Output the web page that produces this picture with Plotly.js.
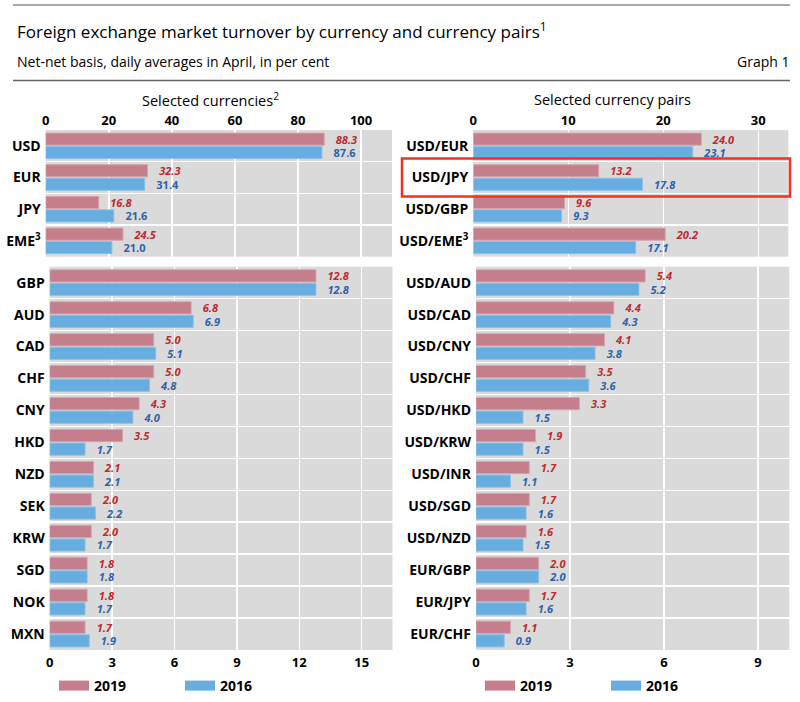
<!DOCTYPE html>
<html>
<head>
<meta charset="utf-8">
<script src="https://cdn.plot.ly/plotly-3.0.1.min.js"></script>
<style>html,body{margin:0;padding:0;background:#fff;}#chart{width:800px;height:702px;}</style>
</head>
<body>
<div id="chart"></div>
<script>
// ---- data ----
const currenciesMajor = ['USD', 'EUR', 'JPY', 'EME<sup>3</sup>'];
const currenciesMajor2019 = [88.3, 32.3, 16.8, 24.5];
const currenciesMajor2016 = [87.6, 31.4, 21.6, 21.0];

const currenciesOther = ['GBP', 'AUD', 'CAD', 'CHF', 'CNY', 'HKD', 'NZD', 'SEK', 'KRW', 'SGD', 'NOK', 'MXN'];
const currenciesOther2019 = [12.8, 6.8, 5.0, 5.0, 4.3, 3.5, 2.1, 2.0, 2.0, 1.8, 1.8, 1.7];
const currenciesOther2016 = [12.8, 6.9, 5.1, 4.8, 4.0, 1.7, 2.1, 2.2, 1.7, 1.8, 1.7, 1.9];

const pairsMajor = ['USD/EUR', 'USD/JPY', 'USD/GBP', 'USD/EME<sup>3</sup>'];
const pairsMajor2019 = [24.0, 13.2, 9.6, 20.2];
const pairsMajor2016 = [23.1, 17.8, 9.3, 17.1];

const pairsOther = ['USD/AUD', 'USD/CAD', 'USD/CNY', 'USD/CHF', 'USD/HKD', 'USD/KRW', 'USD/INR', 'USD/SGD', 'USD/NZD', 'EUR/GBP', 'EUR/JPY', 'EUR/CHF'];
const pairsOther2019 = [5.4, 4.4, 4.1, 3.5, 3.3, 1.9, 1.7, 1.7, 1.6, 2.0, 1.7, 1.1];
const pairsOther2016 = [5.2, 4.3, 3.8, 3.6, 1.5, 1.5, 1.1, 1.6, 1.5, 2.0, 1.6, 0.9];

const seriesNames = ['2019', '2016'];
const topLeftTicks = [0, 20, 40, 60, 80, 100];
const bottomLeftTicks = [0, 3, 6, 9, 12, 15];
const topRightTicks = [0, 10, 20, 30];
const bottomRightTicks = [0, 3, 6, 9];

// ---- styles ----
const FONT = 'Open Sans, Noto Sans, sans-serif';
const W = 800, H = 702;
const px = v => v / W;
const py = v => 1 - v / H;
const PINK = '#c47e8c', BLUE = '#67ade0';
const PINK_EDGE = '#d9a3ae', BLUE_EDGE = '#8cc2ea';
const RED_TXT = '#be2a2f', BLUE_TXT = '#2d62ad';
const NB = '\u00a0\u00a0\u00a0';

function barTrace(name, cats, vals, xa, ya, color, edge, txtColor, italic) {
  return {
    type: 'bar', orientation: 'h', name: name,
    y: cats, x: vals, xaxis: xa, yaxis: ya,
    marker: {color: color, line: {color: edge, width: 1}},
    text: vals.map(v => NB + v.toFixed(1)),
    textposition: 'outside', constraintext: 'none', cliponaxis: false,
    textfont: {family: FONT, size: 11, color: txtColor, weight: 'bold', style: italic ? 'italic' : 'normal'},
    hoverinfo: 'skip', showlegend: false
  };
}
// legend-only keys (wide rectangular swatches)
function legendKey(name, color, xa, ya, legendId) {
  return {
    type: 'scatter', mode: 'lines', name: name, x: [null], y: [null],
    xaxis: xa, yaxis: ya, line: {color: color, width: 11},
    legend: legendId, showlegend: true, hoverinfo: 'skip'
  };
}

const data = [
  barTrace(seriesNames[0], currenciesMajor, currenciesMajor2019, 'x', 'y', PINK, PINK_EDGE, RED_TXT, true),
  barTrace(seriesNames[1], currenciesMajor, currenciesMajor2016, 'x', 'y', BLUE, BLUE_EDGE, BLUE_TXT, false),
  barTrace(seriesNames[0], currenciesOther, currenciesOther2019, 'x2', 'y2', PINK, PINK_EDGE, RED_TXT, true),
  barTrace(seriesNames[1], currenciesOther, currenciesOther2016, 'x2', 'y2', BLUE, BLUE_EDGE, BLUE_TXT, true),
  barTrace(seriesNames[0], pairsMajor, pairsMajor2019, 'x3', 'y3', PINK, PINK_EDGE, RED_TXT, true),
  barTrace(seriesNames[1], pairsMajor, pairsMajor2016, 'x3', 'y3', BLUE, BLUE_EDGE, BLUE_TXT, true),
  barTrace(seriesNames[0], pairsOther, pairsOther2019, 'x4', 'y4', PINK, PINK_EDGE, RED_TXT, true),
  barTrace(seriesNames[1], pairsOther, pairsOther2016, 'x4', 'y4', BLUE, BLUE_EDGE, BLUE_TXT, true),
  legendKey(seriesNames[0], PINK, 'x2', 'y2', 'legend'),
  legendKey(seriesNames[1], BLUE, 'x2', 'y2', 'legend'),
  legendKey(seriesNames[0], PINK, 'x4', 'y4', 'legend2'),
  legendKey(seriesNames[1], BLUE, 'x4', 'y4', 'legend2')
];

const tickFont = {family: FONT, size: 13, color: '#000', weight: 'bold'};
const catFont = {family: FONT, size: 14, color: '#000', weight: 'bold'};

function xAxis(domain, range, ticks, side, anchor) {
  return {
    domain: domain, range: range, side: side, anchor: anchor,
    tickmode: 'array', tickvals: ticks, ticktext: ticks.map(String),
    showgrid: true, gridcolor: '#ffffff', gridwidth: 1.5, zeroline: false,
    showline: false, ticks: '', tickfont: tickFont, fixedrange: true,
    ticklabelstandoff: side === 'bottom' ? 3 : 1
  };
}
function yAxis(domain, anchor) {
  return {
    domain: domain, anchor: anchor, type: 'category', autorange: 'reversed',
    tickson: 'boundaries', showgrid: true, gridcolor: '#ffffff', gridwidth: 1.5,
    zeroline: false, showline: false, ticks: '', ticklabelstandoff: 4,
    tickfont: catFont, fixedrange: true
  };
}

const topDom = [py(256.7), py(130)];
const botDom = [py(650), py(266.7)];

const legendCommon = {
  orientation: 'h', yanchor: 'middle', xanchor: 'left',
  font: {family: FONT, size: 14, color: '#000', weight: 'bold'},
  entrywidth: 81, entrywidthmode: 'pixels', bgcolor: 'rgba(0,0,0,0)', traceorder: 'normal'
};

const layout = {
  width: W, height: H,
  margin: {l: 0, r: 0, t: 0, b: 0},
  paper_bgcolor: '#ffffff', plot_bgcolor: '#dadada',
  font: {family: FONT, color: '#000'},
  barmode: 'group', bargap: 0.15, bargroupgap: 0.1,
  xaxis: xAxis([px(45.7), px(392)], [0, 109.8], topLeftTicks, 'top', 'y'),
  yaxis: yAxis(topDom, 'x'),
  xaxis2: xAxis([px(49.7), px(392.5)], [0, 16.48], bottomLeftTicks, 'bottom', 'y2'),
  yaxis2: yAxis(botDom, 'x2'),
  xaxis3: xAxis([px(473.3), px(788.3)], [0, 33.16], topRightTicks, 'top', 'y3'),
  yaxis3: yAxis(topDom, 'x3'),
  xaxis4: xAxis([px(476), px(789.3)], [0, 10.0], bottomRightTicks, 'bottom', 'y4'),
  yaxis4: yAxis(botDom, 'x4'),
  legend: Object.assign({}, legendCommon, {x: px(54), y: py(686)}),
  legend2: Object.assign({}, legendCommon, {x: px(480), y: py(686)}),
  shapes: [
    {type: 'line', xref: 'paper', yref: 'paper', x0: px(13), x1: px(790), y0: py(5), y1: py(5), line: {color: '#555', width: 1}},
    {type: 'line', xref: 'paper', yref: 'paper', x0: px(13), x1: px(790), y0: py(80.5), y1: py(80.5), line: {color: '#666', width: 1.5}},
    {type: 'rect', xref: 'paper', yref: 'y3', x0: px(402), x1: px(790), y0: 0.4, y1: 1.6, line: {color: '#ee3322', width: 2.5}, fillcolor: 'rgba(0,0,0,0)'}
  ],
  annotations: [
    {text: 'Foreign exchange market turnover by currency and currency pairs<sup>1</sup>', xref: 'paper', yref: 'paper', x: px(15), y: py(31), xanchor: 'left', yanchor: 'middle', showarrow: false, font: {family: FONT, size: 17, color: '#000'}},
    {text: 'Net-net basis, daily averages in April, in per cent', xref: 'paper', yref: 'paper', x: px(15), y: py(62), xanchor: 'left', yanchor: 'middle', showarrow: false, font: {family: FONT, size: 14, color: '#000'}},
    {text: 'Graph 1', xref: 'paper', yref: 'paper', x: px(791), y: py(62), xanchor: 'right', yanchor: 'middle', showarrow: false, font: {family: FONT, size: 14, color: '#000'}},
    {text: 'Selected currencies<sup>2</sup>', xref: 'paper', yref: 'paper', x: px(210), y: py(100), xanchor: 'center', yanchor: 'middle', showarrow: false, font: {family: FONT, size: 14.5, color: '#000'}},
    {text: 'Selected currency pairs', xref: 'paper', yref: 'paper', x: px(612), y: py(100), xanchor: 'center', yanchor: 'middle', showarrow: false, font: {family: FONT, size: 14.5, color: '#000'}}
  ]
};

Plotly.newPlot('chart', data, layout, {staticPlot: true, displayModeBar: false});
</script>
</body>
</html>
